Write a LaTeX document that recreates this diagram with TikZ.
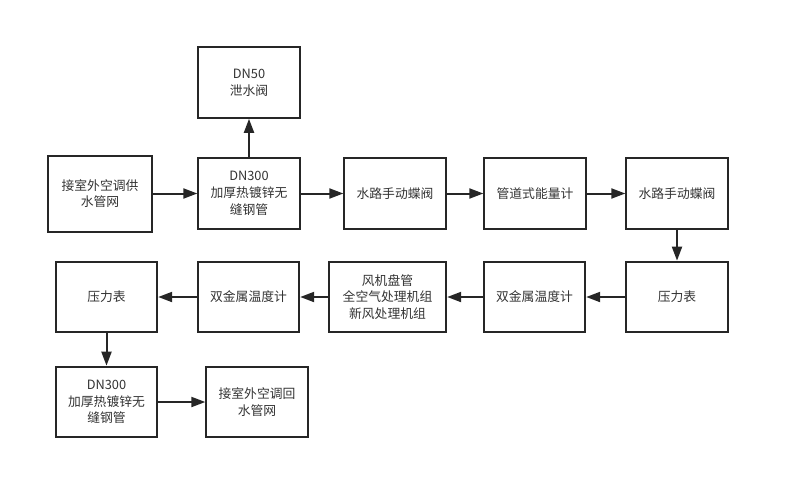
\documentclass[tikz,border=0pt]{standalone}
\usepackage{fontspec}
\setmainfont{Noto Sans CJK SC}
\usetikzlibrary{arrows.meta}
\definecolor{boxgray}{RGB}{38,38,38}
\definecolor{textgray}{RGB}{51,51,51}

\begin{document}
\begin{tikzpicture}[
    x=0.75pt, y=-0.75pt,
    >=Stealth,
    line join=miter,
    unit/.style={draw=boxgray, line width=1.5pt, text=textgray,
        minimum width=76pt, minimum height=53pt, align=center,
        font=\fontsize{9.6}{12.6}\selectfont, inner sep=0pt},
    flow/.style={-{Triangle[length=10.5pt,width=7.5pt]}, draw=boxgray,
        line width=1.5pt},
]
\useasboundingbox (0,0) rectangle (787,499);

% ── Row 1: supply side ──────────────────────────────────────────────────────
\node[unit, minimum width=78pt, minimum height=57pt] (supply) at (100,193.5)
    {接室外空调供\\水管网};
\node[unit] (pipeA)  at (249,193.5) {DN300\\加厚热镀锌无\\缝钢管};
\node[unit] (drain)  at (249,82.5)  {DN50\\泄水阀};
\node[unit] (valveA) at (395,193.5) {水路手动蝶阀};
\node[unit] (meter)  at (535,193.5) {管道式能量计};
\node[unit] (valveB) at (677,193.5) {水路手动蝶阀};

% ── Row 2: terminals and instruments ────────────────────────────────────────
\node[unit] (gaugeR)  at (677,297)   {压力表};
\node[unit] (thermoR) at (534.5,297) {双金属温度计};
\node[unit, minimum width=88pt] (coil) at (387.5,297)
    {风机盘管\\全空气处理机组\\新风处理机组};
\node[unit] (thermoL) at (248.5,297) {双金属温度计};
\node[unit] (gaugeL)  at (106.5,297) {压力表};

% ── Row 3: return side ──────────────────────────────────────────────────────
\node[unit] (pipeB) at (106.5,402) {DN300\\加厚热镀锌无\\缝钢管};
\node[unit] (ret)   at (257,402)   {接室外空调回\\水管网};

% ── Connectors ──────────────────────────────────────────────────────────────
\draw[flow] (supply) -- (pipeA);
\draw[flow] (pipeA)  -- (drain);
\draw[flow] (pipeA)  -- (valveA);
\draw[flow] (valveA) -- (meter);
\draw[flow] (meter)  -- (valveB);
\draw[flow] (valveB) -- (gaugeR);
\draw[flow] (gaugeR) -- (thermoR);
\draw[flow] (thermoR) -- (coil);
\draw[flow] (coil)   -- (thermoL);
\draw[flow] (thermoL) -- (gaugeL);
\draw[flow] (gaugeL) -- (pipeB);
\draw[flow] (pipeB)  -- (ret);

\end{tikzpicture}
\end{document}
